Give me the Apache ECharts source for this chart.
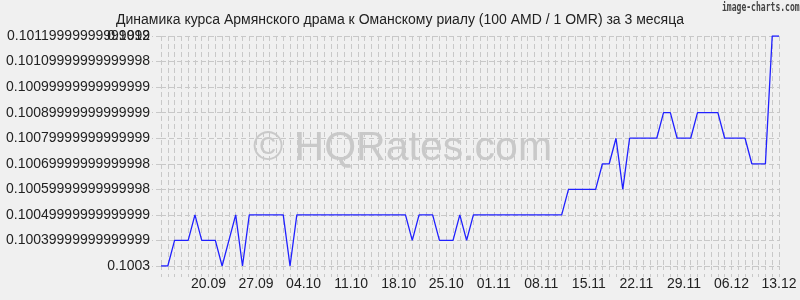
<!DOCTYPE html>
<html>
<head>
<meta charset="utf-8">
<script src="https://cdn.jsdelivr.net/npm/echarts@6/dist/echarts.min.js"></script>
<style>
html,body{margin:0;padding:0;background:#f0f0f0;}
#chart{width:800px;height:300px;}
</style>
</head>
<body>
<div id="chart"></div>
<script>
const titleText = 'Динамика курса Армянского драма к Оманскому риалу (100 AMD / 1 OMR) за 3 месяца';
const watermarkText = '© HQRates.com';
const creditText = 'image-charts.com';

const categories = [
  '13.09','14.09','15.09','16.09','17.09','18.09','19.09','20.09','21.09','22.09',
  '23.09','24.09','25.09','26.09','27.09','28.09','29.09','30.09','01.10','02.10',
  '03.10','04.10','05.10','06.10','07.10','08.10','09.10','10.10','11.10','12.10',
  '13.10','14.10','15.10','16.10','17.10','18.10','19.10','20.10','21.10','22.10',
  '23.10','24.10','25.10','26.10','27.10','28.10','29.10','30.10','31.10','01.11',
  '02.11','03.11','04.11','05.11','06.11','07.11','08.11','09.11','10.11','11.11',
  '12.11','13.11','14.11','15.11','16.11','17.11','18.11','19.11','20.11','21.11',
  '22.11','23.11','24.11','25.11','26.11','27.11','28.11','29.11','30.11','01.12',
  '02.12','03.12','04.12','05.12','06.12','07.12','08.12','09.12','10.12','11.12',
  '12.12','13.12'
];

const rates = [
  0.1003,0.1003,0.1004,0.1004,0.1004,0.1005,0.1004,0.1004,0.1004,0.1003,
  0.1004,0.1005,0.1003,0.1005,0.1005,0.1005,0.1005,0.1005,0.1005,0.1003,
  0.1005,0.1005,0.1005,0.1005,0.1005,0.1005,0.1005,0.1005,0.1005,0.1005,
  0.1005,0.1005,0.1005,0.1005,0.1005,0.1005,0.1005,0.1004,0.1005,0.1005,
  0.1005,0.1004,0.1004,0.1004,0.1005,0.1004,0.1005,0.1005,0.1005,0.1005,
  0.1005,0.1005,0.1005,0.1005,0.1005,0.1005,0.1005,0.1005,0.1005,0.1005,
  0.1006,0.1006,0.1006,0.1006,0.1006,0.1007,0.1007,0.1008,0.1006,0.1008,
  0.1008,0.1008,0.1008,0.1008,0.1009,0.1009,0.1008,0.1008,0.1008,0.1009,
  0.1009,0.1009,0.1009,0.1008,0.1008,0.1008,0.1008,0.1007,0.1007,0.1007,
  0.1012,0.1012
];

const xTickLabels = ['20.09','27.09','04.10','11.10','18.10','25.10','01.11','08.11','15.11','22.11','29.11','06.12','13.12'];

const yMin = 0.1003;
const yMax = 0.1012;
const yStep = 0.0001;
const yTickLabels = [
  '0.1003',
  '0.10039999999999999',
  '0.10049999999999999',
  '0.10059999999999998',
  '0.10069999999999998',
  '0.10079999999999999',
  '0.10089999999999999',
  '0.10099999999999999',
  '0.10109999999999998',
  '0.10119999999999999'
];
const yTopExtraLabel = '0.1012';

const chart = echarts.init(document.getElementById('chart'), null, {renderer: 'canvas'});
const font = 'Liberation Sans, Arial, sans-serif';
const gridColor = '#c8c8c8';

function tickIndex(v) { return Math.round((v - yMin) / yStep); }

chart.setOption({
  backgroundColor: '#f0f0f0',
  animation: false,
  title: {
    text: titleText,
    left: 'center',
    top: 8,
    textStyle: {fontFamily: font, fontSize: 14, fontWeight: 'normal', color: '#222'}
  },
  graphic: [
    {
      type: 'text', left: 722, top: 1, z: 10, scaleX: 0.62, originX: 0,
      style: {text: creditText, font: 'bold 13px "DejaVu Sans Mono", monospace', fill: '#444'}
    },
    {
      type: 'text', left: 253, top: 128, z: 0,
      style: {text: watermarkText, font: '41px "Liberation Sans", Arial, sans-serif', fill: '#c9c9c9'}
    }
  ],
  grid: {left: 161, right: 21, top: 36, bottom: 34, containLabel: false},
  xAxis: {
    type: 'category',
    data: categories,
    boundaryGap: false,
    axisLine: {show: false},
    axisTick: {show: true, interval: 0, length: 11, lineStyle: {color: gridColor, type: [4, 4]}},
    axisLabel: {
      interval: function (i, v) { return xTickLabels.indexOf(v) >= 0; },
      margin: 11,
      fontFamily: font, fontSize: 14, color: '#222'
    },
    splitLine: {show: true, interval: 0, lineStyle: {color: gridColor, type: [5, 3], width: 1}}
  },
  yAxis: [
    {
      type: 'value',
      min: yMin, max: yMax, interval: yStep,
      axisLine: {show: false},
      axisTick: {show: true, length: 9, lineStyle: {color: gridColor, type: [5, 3]}},
      axisLabel: {
        margin: 11,
        fontFamily: font, fontSize: 14, color: '#222',
        formatter: function (v) { return yTickLabels[tickIndex(v)] || ''; }
      },
      splitLine: {show: true, lineStyle: {color: gridColor, type: [5, 3], width: 1}}
    },
    {
      type: 'value',
      position: 'left',
      min: yMin, max: yMax, interval: yStep,
      axisLine: {show: false},
      axisTick: {show: false},
      splitLine: {show: false},
      axisLabel: {
        margin: 11,
        fontFamily: font, fontSize: 14, color: '#222',
        formatter: function (v) { return tickIndex(v) === yTickLabels.length - 1 ? yTopExtraLabel : ''; }
      }
    }
  ],
  series: [{
    type: 'line',
    data: rates,
    yAxisIndex: 0,
    symbol: 'none',
    lineStyle: {color: '#2020ff', width: 1.3},
    z: 5
  }]
});
</script>
</body>
</html>
